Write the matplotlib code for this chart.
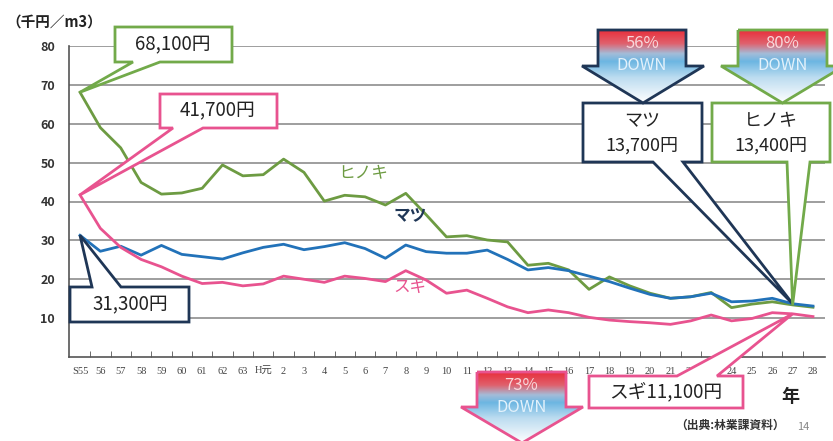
import numpy as np
import matplotlib
matplotlib.use("Agg")
import matplotlib.pyplot as plt
from matplotlib.patches import Polygon
from matplotlib.colors import LinearSegmentedColormap

plt.rcParams['font.family'] = ['Noto Sans CJK JP', 'DejaVu Sans']

# 年 (S55 ~ H28)
years = ['S55', '56', '57', '58', '59', '60', '61', '62', '63', 'H元'] + [str(i) for i in range(2, 29)]
# 価格 (千円/m3)
hinoki = [68.1, 59.0, 53.8, 44.9, 41.9, 42.2, 43.4, 49.4, 46.6,
          46.9, 50.9, 47.5, 40.1, 41.6, 41.2, 39.1, 42.1, 36.6, 30.9, 31.2, 30.1, 29.6, 23.6, 24.1,
          22.4, 17.4, 20.6, 18.3, 16.4, 15.1, 15.5, 16.6, 12.7, 13.6, 14.2, 13.4, 12.8]
matsu = [31.3, 27.2, 28.5, 26.2, 28.7, 26.4, 25.8, 25.2, 26.8,
         28.2, 29.0, 27.6, 28.4, 29.4, 27.9, 25.4, 28.8, 27.1, 26.7, 26.7, 27.5, 25.1, 22.4, 23.0,
         22.2, 20.8, 19.4, 17.7, 16.1, 15.1, 15.5, 16.4, 14.2, 14.4, 15.1, 13.7, 13.1]
sugi = [41.7, 33.1, 28.2, 25.1, 23.2, 20.8, 18.9, 19.2, 18.3,
        18.8, 20.8, 20.0, 19.2, 20.8, 20.2, 19.4, 22.2, 19.8, 16.4, 17.2, 15.1, 12.9, 11.4, 12.1,
        11.4, 10.2, 9.5, 9.1, 8.8, 8.4, 9.3, 10.8, 9.3, 9.9, 11.4, 11.1, 10.4]

c_hinoki = '#6d9b42'
c_matsu = '#2272b9'
c_sugi = '#e8538f'
c_navy = '#1f3656'
c_gbox = '#72aa4a'

W, H = 833, 441
fig = plt.figure(figsize=(W / 100, H / 100), dpi=100)
ax = fig.add_axes([69 / W, 1 - 357 / H, (825 - 69) / W, (357 - 46) / H])

x = np.arange(len(years))
ax.set_xlim(-0.54, 36.59)
ax.set_ylim(0, 80)
for v in range(10, 90, 10):
    ax.axhline(v, color='#8e8e8e', lw=1.2, zorder=1)
ax.plot(x, hinoki, color=c_hinoki, lw=2, zorder=3)
ax.plot(x, matsu, color=c_matsu, lw=2, zorder=3)
ax.plot(x, sugi, color=c_sugi, lw=2, zorder=3)

ax.spines['top'].set_visible(False)
ax.spines['right'].set_visible(False)
ax.spines['left'].set_color('#555555')
ax.spines['bottom'].set_color('#555555')
ax.spines['left'].set_linewidth(1.2)
ax.spines['bottom'].set_linewidth(1.2)
ax.set_yticks(range(10, 90, 10))
ax.set_yticklabels([str(v) for v in range(10, 90, 10)], fontsize=9, fontweight='bold', color='#333333')
ax.tick_params(axis='y', length=0, pad=10)
ax.set_xticks(x)
ax.set_xticklabels(years, fontsize=7.5, color='#444444', family=['Liberation Serif', 'Noto Sans CJK JP'])
ax.tick_params(axis='x', length=0, pad=7)
ax.set_xticks(x[:-1] + 0.5, minor=True)
ax.tick_params(axis='x', which='minor', direction='in', length=4, color='#555555')

# series labels
ax.text(13.9, 47.5, 'ヒノキ', color=c_hinoki, fontsize=12, ha='center', va='center', zorder=4)
ax.text(16.2, 36.2, 'マツ', color=c_navy, fontsize=12, fontweight='bold', ha='center', va='center', zorder=4)
ax.text(16.2, 18.0, 'スギ', color=c_sugi, fontsize=12, ha='center', va='center', zorder=4)

# overlay in pixel coords
ov = fig.add_axes([0, 0, 1, 1], zorder=5)
ov.set_xlim(0, W)
ov.set_ylim(H, 0)
ov.axis('off')
ov.patch.set_alpha(0)


def px(i, v):
    dx, dy = ax.transData.transform((i, v))
    return dx, H - dy


def callout(box, tail, tip, edge, side='bottom'):
    x0, y0, x1, y1 = box
    a, b = tail
    if side == 'bottom':
        pts = [(x0, y0), (x1, y0), (x1, y1), (b, y1), tip, (a, y1), (x0, y1)]
    else:
        pts = [(x0, y0), (a, y0), tip, (b, y0), (x1, y0), (x1, y1), (x0, y1)]
    ov.add_patch(Polygon(pts, closed=True, fc='white', ec=edge, lw=2, joinstyle='miter'))


callout((115, 27, 232, 62), (133, 160), px(0, hinoki[0]), c_gbox)
ov.text(173, 45, '68,100円', fontsize=13.5, ha='center', va='center', color='#222222')
callout((160, 94, 277, 128), (173, 203), px(0, sugi[0]), c_sugi)
ov.text(218, 111, '41,700円', fontsize=13.5, ha='center', va='center', color='#222222')
callout((70, 287, 189, 322), (92, 121), px(0, matsu[0]), c_navy, side='top')
ov.text(130, 305, '31,300円', fontsize=13.5, ha='center', va='center', color='#222222')
callout((583, 103, 702, 162), (653, 683), px(35, matsu[35]), c_navy)
ov.text(642, 121, 'マツ', fontsize=13, ha='center', va='center', color='#222222')
ov.text(642, 146, '13,700円', fontsize=13, ha='center', va='center', color='#222222')
callout((712, 103, 830, 162), (787, 810), px(35, hinoki[35]), c_gbox)
ov.text(771, 121, 'ヒノキ', fontsize=13, ha='center', va='center', color='#222222')
ov.text(771, 146, '13,400円', fontsize=13, ha='center', va='center', color='#222222')
callout((589, 376, 743, 408), (677, 717), px(35, sugi[35]), c_sugi, side='top')
ov.text(666, 393, 'スギ11,100円', fontsize=13.5, ha='center', va='center', color='#222222')

cmap = LinearSegmentedColormap.from_list('down', [
    (0.0, '#e8303c'), (0.18, '#e0606c'), (0.32, '#a4bcd8'), (0.43, '#6cb6e2'),
    (0.65, '#bcdcf0'), (1.0, '#ffffff')])
grad = np.linspace(0, 1, 200).reshape(-1, 1)


def down_arrow(x0, x1, xh0, xh1, ytop, yneck, ytip, edge, pct):
    xm = (xh0 + xh1) / 2
    pts = [(x0, ytop), (x1, ytop), (x1, yneck), (xh1, yneck), (xm, ytip), (xh0, yneck), (x0, yneck)]
    poly = Polygon(pts, closed=True, fc='none', ec=edge, lw=2, joinstyle='miter', zorder=3)
    ov.add_patch(poly)
    im = ov.imshow(grad, cmap=cmap, extent=(xh0, xh1, ytip, ytop), origin='upper',
                   aspect='auto', zorder=2, interpolation='bilinear')
    im.set_clip_path(poly)
    ov.text((x0 + x1) / 2, ytop + 13, pct, fontsize=12, ha='center', va='center', color='#f8d6da', zorder=4)
    ov.text((x0 + x1) / 2, yneck, 'DOWN', fontsize=12, ha='center', va='center', color='#e2f1fb', zorder=4)


down_arrow(598, 686, 582, 704, 30, 66, 103, c_navy, '56%')
down_arrow(738, 827, 721, 844, 30, 66, 103, c_gbox, '80%')
down_arrow(477, 566, 461, 583, 372, 407, 443, c_sugi, '73%')
ov.set_xlim(0, W)
ov.set_ylim(H, 0)

ov.text(6, 22, '（千円／m3）', fontsize=10.5, fontweight='bold', ha='left', va='center', color='#222222')
ov.text(790, 397, '年', fontsize=13, fontweight='bold', ha='center', va='center', color='#222222')
ov.text(730, 425, '（出典:林業課資料）', fontsize=8.5, fontweight='bold', ha='center', va='center', color='#333333')
ov.text(803, 427, '14', fontsize=8, ha='center', va='center', color='#888888')

fig.savefig('out.png', dpi=100)
